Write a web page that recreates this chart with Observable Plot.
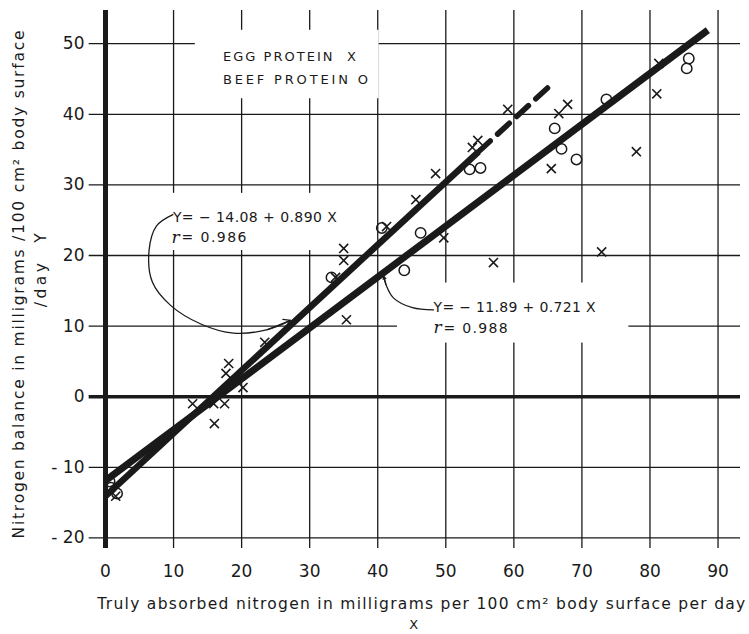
<!DOCTYPE html>
<html>
<head>
<meta charset="utf-8">
<script src="https://cdn.jsdelivr.net/npm/d3@7"></script>
<script src="https://cdn.jsdelivr.net/npm/@observablehq/plot@0.6"></script>
<style>
  html, body { margin: 0; padding: 0; background: #fff; }
  #chart svg { display: block; }
</style>
</head>
<body>
<div id="chart"></div>
<script>
// Tick values on both axes
const xTicks = [0, 10, 20, 30, 40, 50, 60, 70, 80, 90];
const yTicks = [-20, -10, 0, 10, 20, 30, 40, 50];

// Egg protein observations (truly absorbed N, nitrogen balance)
const eggX = [1.5, 12.8, 16.0, 15.9, 17.5, 17.7, 18.1, 20.2, 23.4, 33.8, 35.0, 35.0, 35.4, 41.3,
              45.6, 48.5, 49.7, 53.9, 54.7, 59.1, 57.0, 65.5, 66.6, 67.9, 72.9, 78.0, 81.0, 81.3];
const eggY = [-14.1, -1.0, -3.8, -1.0, -1.0, 3.3, 4.7, 1.3, 7.7, 16.9, 19.3, 21.0, 10.9, 24.1,
              27.9, 31.6, 22.5, 35.3, 36.3, 40.7, 19.0, 32.3, 40.1, 41.4, 20.5, 34.7, 42.9, 47.2];

// Beef protein observations
const beefX = [0.6, 0.8, 1.7, 33.2, 40.6, 43.9, 46.3, 53.5, 55.1, 66.0, 67.0, 69.2, 73.6, 85.4, 85.7];
const beefY = [-12.0, -12.9, -13.7, 16.9, 23.9, 17.9, 23.2, 32.2, 32.4, 38.0, 35.1, 33.6, 42.1, 46.5, 47.9];

// Regression fits: intercept, slope, correlation
const eggFit = {a: -14.08, b: 0.890, r: 0.986};
const beefFit = {a: -11.89, b: 0.721, r: 0.988};
// x extents of the fitted lines (solid part, dashed extension)
const eggSolid = [0, 54.8];
const eggDashed = [54.8, 65.8];
const beefSolid = [0, 88.5];

// Leader curves from the equation labels to their lines
const eggLeader = [[9.9, 25.8], [7.5, 24.2], [6.4, 20.7], [6.9, 16.2], [9.6, 12.9],
                   [14.0, 10.3], [18.8, 9.0], [23.8, 9.5], [27.2, 10.8]];
const beefLeader = [[48.2, 12.3], [45.1, 12.6], [42.3, 14.0], [41.2, 15.9], [40.9, 17.0]];

// Blank zones in the drafting grid behind the lettering
const gridGaps = [
  {x1: 13.2, x2: 40.2, y1: 42.2, y2: 51.9},
  {x1: 8.2, x2: 35.5, y1: 20.7, y2: 28.8},
  {x1: 42.9, x2: 76.9, y1: 7.6, y2: 16.1}
];

const fitLine = (fit, [x0, x1]) => [x0, x1].map(x => ({x, y: fit.a + fit.b * x}));
const pts = (xs, ys) => xs.map((x, i) => ({x, y: ys[i]}));
const fmt = v => (v < 0 ? "− " : "") + Math.abs(v).toFixed(2);

const xMin = -2.4, xMax = 93.3, yMin = -21.5, yMax = 54.7;
const ink = "#1a1a1a";
const font = "'DejaVu Sans', sans-serif";

const eggEq = `Y= ${fmt(eggFit.a)} + ${eggFit.b.toFixed(3)} X`;
const beefEq = `Y= ${fmt(beefFit.a)} + ${beefFit.b.toFixed(3)} X`;

const label = (text, opts) => Plot.text([text], {text: d => d, fill: ink, ...opts});

const chart = Plot.plot({
  width: 749,
  height: 634,
  marginLeft: 105,
  marginRight: 9,
  marginTop: 10,
  marginBottom: 86,
  style: {fontFamily: font, fontSize: "17px", color: ink, background: "#fff"},
  x: {domain: [0, xMax], ticks: xTicks, tickSize: 0, tickPadding: 16, label: null, tickFormat: d => d},
  y: {domain: [yMin, yMax], ticks: yTicks, tickSize: 0, tickPadding: 21, label: null, tickFormat: d => d < 0 ? "- " + Math.abs(d) : d},
  marks: [
    // drafting grid
    Plot.ruleY(yTicks.filter(d => d !== 0), {x1: xMin, x2: xMax, stroke: ink, strokeWidth: 1.3}),
    Plot.ruleX(xTicks.filter(d => d !== 0), {y1: yMin, y2: yMax, stroke: ink, strokeWidth: 1.3}),
    Plot.rect(gridGaps, {x1: "x1", x2: "x2", y1: "y1", y2: "y2", fill: "#fff"}),
    // zero balance line and the ordinate
    Plot.ruleY([0], {x1: xMin, x2: xMax, stroke: ink, strokeWidth: 3.5}),
    Plot.ruleX([0], {y1: yMin, y2: yMax, stroke: ink, strokeWidth: 5}),
    // fitted regression lines
    Plot.line(fitLine(eggFit, eggSolid), {x: "x", y: "y", stroke: ink, strokeWidth: 6.5, strokeLinecap: "butt"}),
    Plot.line(fitLine(eggFit, eggDashed), {x: "x", y: "y", stroke: ink, strokeWidth: 5.5, strokeDasharray: "16,10", strokeLinecap: "round"}),
    Plot.line(fitLine(beefFit, beefSolid), {x: "x", y: "y", stroke: ink, strokeWidth: 7, strokeLinecap: "butt"}),
    // observations
    Plot.dot(pts(eggX, eggY), {x: "x", y: "y", symbol: "times", r: 4.2, stroke: ink, strokeWidth: 1.6}),
    Plot.dot(pts(beefX, beefY), {x: "x", y: "y", symbol: "circle", r: 5.2, stroke: ink, strokeWidth: 1.5, fill: "none"}),
    // key
    label("EGG PROTEIN  X", {x: 17.25, y: 48.2, textAnchor: "start", fontSize: 13, className: "len-133"}),
    label("BEEF PROTEIN O", {x: 17.25, y: 44.9, textAnchor: "start", fontSize: 13, className: "len-145"}),
    // equations
    label(eggEq, {x: 9.9, y: 25.4, textAnchor: "start", fontSize: 14, className: "len-164"}),
    label("r", {x: 9.7, y: 22.6, textAnchor: "start", fontSize: 17, fontStyle: "italic", fontFamily: "'DejaVu Serif', serif"}),
    label(`= ${eggFit.r.toFixed(3)}`, {x: 9.7, y: 22.5, dx: 10, textAnchor: "start", fontSize: 14, className: "len-65"}),
    label(beefEq, {x: 48.2, y: 12.6, textAnchor: "start", fontSize: 14, className: "len-162"}),
    label("r", {x: 48.2, y: 9.8, textAnchor: "start", fontSize: 17, fontStyle: "italic", fontFamily: "'DejaVu Serif', serif"}),
    label(`= ${beefFit.r.toFixed(3)}`, {x: 48.2, y: 9.7, dx: 10, textAnchor: "start", fontSize: 14, className: "len-64"}),
    // leader curves with small arrowheads
    Plot.line(eggLeader, {x: d => d[0], y: d => d[1], curve: "catmull-rom", stroke: ink, strokeWidth: 1.3}),
    Plot.arrow([eggLeader.slice(-2)], {x1: d => d[0][0], y1: d => d[0][1], x2: d => d[1][0], y2: d => d[1][1], stroke: ink, strokeWidth: 1.3, headLength: 9}),
    Plot.line(beefLeader, {x: d => d[0], y: d => d[1], curve: "catmull-rom", stroke: ink, strokeWidth: 1.3}),
    Plot.arrow([beefLeader.slice(-2)], {x1: d => d[0][0], y1: d => d[0][1], x2: d => d[1][0], y2: d => d[1][1], stroke: ink, strokeWidth: 1.3, headLength: 9}),
    // axis titles
    label("Truly absorbed nitrogen in milligrams per 100 cm² body surface per day", {x: 46.4, y: -29.3, fontSize: 15.5, className: "len-648"}),
    label("X", {x: 45.3, y: -32.3, fontSize: 13}),
    label("Nitrogen balance in milligrams /100 cm² body surface", {x: -12.7, y: 15.9, rotate: -90, fontSize: 15.5, className: "len-508"}),
    label("/day  Y", {x: -9.5, y: 17.9, rotate: -90, fontSize: 15.5, className: "len-74"})
  ]
});

// Stretch lettering to its drafted widths
d3.select(chart).selectAll("g[class^='len-']").each(function () {
  const len = +this.getAttribute("class").split(" ")[0].slice(4);
  d3.select(this).selectAll("text").attr("textLength", len).attr("lengthAdjust", "spacing");
});

document.getElementById("chart").append(chart);
</script>
</body>
</html>
